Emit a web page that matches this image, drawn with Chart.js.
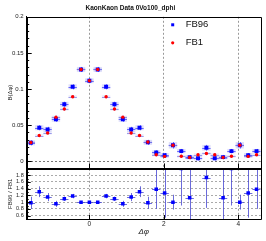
<!DOCTYPE html>
<html>
<head>
<meta charset="utf-8">
<script src="https://cdn.jsdelivr.net/npm/chart.js@4/dist/chart.umd.min.js"></script>
<style>
  html, body { margin: 0; padding: 0; background: #fff; }
  #c { display: block; }
</style>
</head>
<body>
<canvas id="c" width="266" height="241"></canvas>
<script>
// bin centres in dphi (28 bins over 2pi)
const dphi = [-1.571, -1.346, -1.122, -0.898, -0.673, -0.449, -0.224, 0, 0.224, 0.449,
  0.673, 0.898, 1.122, 1.346, 1.571, 1.795, 2.020, 2.244, 2.468, 2.693,
  2.917, 3.142, 3.366, 3.590, 3.815, 4.039, 4.264, 4.488];
const halfBin = 0.112;

const fb96 = [0.0254, 0.0463, 0.044, 0.058, 0.0788, 0.103, 0.127, 0.1115, 0.127, 0.103,
  0.0788, 0.058, 0.044, 0.0463, 0.026, 0.012, 0.0083, 0.022, 0.0139, 0.0056,
  0.0040, 0.0185, 0.0040, 0.0056, 0.0139, 0.022, 0.0083, 0.0139];
const fb96Err = [0.0035, 0.0035, 0.0035, 0.0035, 0.0035, 0.0035, 0.0035, 0.0035, 0.0035, 0.0035,
  0.0035, 0.0035, 0.0035, 0.0035, 0.0035, 0.003, 0.003, 0.0045, 0.003, 0.003,
  0.003, 0.004, 0.003, 0.003, 0.003, 0.0045, 0.003, 0.003];
const fb1 = [0.0259, 0.0355, 0.039, 0.061, 0.0722, 0.0893, 0.127, 0.1115, 0.127, 0.0893,
  0.0722, 0.061, 0.039, 0.0355, 0.0265, 0.0088, 0.0066, 0.022, 0.0069, 0.005,
  0.0088, 0.0107, 0.0088, 0.005, 0.0069, 0.022, 0.0066, 0.0088];
const fb1Err = [0.002, 0.002, 0.002, 0.002, 0.002, 0.002, 0.002, 0.002, 0.002, 0.002,
  0.002, 0.002, 0.002, 0.002, 0.002, 0.002, 0.002, 0.002, 0.002, 0.002,
  0.002, 0.002, 0.002, 0.002, 0.002, 0.002, 0.002, 0.002];

const ratio = [0.98, 1.31, 1.15, 0.95, 1.10, 1.18, 1.0, 1.0, 1.0, 1.18,
  1.10, 0.95, 1.15, 1.31, 0.98, 1.38, 1.27, 1.0, 2.0, 1.13,
  null, 1.73, null, 1.13, 2.0, 1.0, 1.27, 1.38];
const ratioErr = [0.18, 0.16, 0.12, 0.09, 0.065, 0.065, 0.03, 0.03, 0.03, 0.065,
  0.065, 0.09, 0.12, 0.16, 0.18, 0.58, 0.73, 0.22, 1.1, 1.5,
  null, 0.9, null, 1.5, 1.1, 0.22, 0.73, 0.58];

const xTicks = [0, 2, 4];
const yTicks = [0, 0.05, 0.1, 0.15, 0.2];
const rTicks = [0.6, 0.8, 1, 1.2, 1.4, 1.6, 1.8];

const FONT = "'Liberation Sans', Arial, sans-serif";
Chart.defaults.font.family = FONT;
Chart.defaults.color = '#222';

function pts(ys) {
  return dphi.map((x, i) => ({x: x, y: ys[i]}));
}

// error boxes + bars, clipped to the pad of each dataset
const errorBars = {
  id: 'errorBars',
  beforeDatasetsDraw(chart) {
    const ctx = chart.ctx;
    const xs = chart.scales.x;
    chart.data.datasets.forEach(ds => {
      const ys = chart.scales[ds.yAxisID];
      ctx.save();
      ctx.beginPath();
      ctx.rect(xs.left, ys.top, xs.right - xs.left, ys.bottom - ys.top);
      ctx.clip();
      ds.data.forEach((p, i) => {
        if (p.y == null) return;
        const e = ds.err[i];
        const px = xs.getPixelForValue(p.x);
        const x0 = xs.getPixelForValue(p.x - halfBin);
        const x1 = xs.getPixelForValue(p.x + halfBin);
        const py = ys.getPixelForValue(p.y);
        const y0 = ys.getPixelForValue(p.y - e);
        const y1 = ys.getPixelForValue(p.y + e);
        if (ds.box) {
          ctx.fillStyle = ds.box;
          ctx.fillRect(x0, y1, x1 - x0, y0 - y1);
        }
        ctx.strokeStyle = ds.errColor;
        ctx.lineWidth = 1;
        ctx.beginPath();
        ctx.moveTo(x0, Math.round(py) + 0.5);
        ctx.lineTo(x1, Math.round(py) + 0.5);
        ctx.moveTo(Math.round(px) + 0.5, y0);
        ctx.lineTo(Math.round(px) + 0.5, y1);
        ctx.stroke();
      });
      ctx.restore();
    });
  }
};

// ROOT-like frames and inner tick marks
const frames = {
  id: 'frames',
  afterDatasetsDraw(chart) {
    const ctx = chart.ctx;
    const xs = chart.scales.x, yt = chart.scales.y, yr = chart.scales.yr;
    ctx.save();
    ctx.strokeStyle = '#000';
    ctx.lineWidth = 1;
    ctx.beginPath();
    [yt, yr].forEach(s => {
      ctx.rect(Math.round(xs.left) + 0.5, Math.round(s.top) + 0.5,
        Math.round(xs.right - xs.left), Math.round(s.bottom - s.top));
    });
    // minor / major ticks on the left edges
    for (let v = -0.01; v <= 0.2001; v += 0.01) {
      const y = Math.round(yt.getPixelForValue(v)) + 0.5;
      const major = Math.abs(v / 0.05 - Math.round(v / 0.05)) < 1e-6;
      ctx.moveTo(xs.left, y);
      ctx.lineTo(xs.left + (major ? 5 : 2.5), y);
    }
    for (let v = 0.6; v <= 1.95; v += 0.1) {
      const y = Math.round(yr.getPixelForValue(v)) + 0.5;
      const major = Math.abs(v / 0.2 - Math.round(v / 0.2)) < 1e-6;
      ctx.moveTo(xs.left, y);
      ctx.lineTo(xs.left + (major ? 4 : 2), y);
    }
    xTicks.forEach(v => {
      const x = Math.round(xs.getPixelForValue(v)) + 0.5;
      ctx.moveTo(x, yr.bottom);
      ctx.lineTo(x, yr.bottom - 4);
      ctx.moveTo(x, yt.bottom);
      ctx.lineTo(x, yt.bottom - 5);
    });
    ctx.stroke();
    ctx.restore();
  }
};

// legend drawn inside the upper pad
const padLegend = {
  id: 'padLegend',
  afterDraw(chart) {
    const ctx = chart.ctx;
    const xs = chart.scales.x, yt = chart.scales.y;
    const mx = xs.left + 146, tx = xs.left + 159;
    ctx.save();
    ctx.font = '9.5px ' + FONT;
    ctx.textBaseline = 'middle';
    ctx.textAlign = 'left';
    chart.data.datasets.slice(0, 2).forEach((ds, i) => {
      const y = yt.top + 8 + i * 18;
      ctx.fillStyle = ds.backgroundColor;
      if (ds.pointStyle === 'rect') {
        ctx.fillRect(mx - 1.5, y - 1.5, 3, 3);
      } else {
        ctx.beginPath();
        ctx.arc(mx, y, 1.6, 0, Math.PI * 2);
        ctx.fill();
      }
      ctx.fillStyle = '#111';
      ctx.fillText(ds.label, tx, y);
    });
    ctx.restore();
  }
};

new Chart(document.getElementById('c'), {
  type: 'scatter',
  data: {
    datasets: [
      {
        label: 'FB96', data: pts(fb96), err: fb96Err, yAxisID: 'y',
        pointStyle: 'rect', pointRadius: 2.8, borderWidth: 0,
        backgroundColor: '#0000ff', borderColor: '#0000ff',
        errColor: 'rgba(60,60,255,0.75)', box: 'rgba(110,110,230,0.22)', order: 2
      },
      {
        label: 'FB1', data: pts(fb1), err: fb1Err, yAxisID: 'y',
        pointStyle: 'circle', pointRadius: 1.7, borderWidth: 0,
        backgroundColor: '#ff0000', borderColor: '#ff0000',
        errColor: 'rgba(120,120,230,0.7)', box: 'rgba(120,120,220,0.15)', order: 1
      },
      {
        label: 'ratio', data: pts(ratio), err: ratioErr, yAxisID: 'yr',
        pointStyle: 'rect', pointRadius: 2.5, borderWidth: 0,
        backgroundColor: '#0000ff', borderColor: '#0000ff',
        errColor: 'rgba(70,70,210,0.8)', order: 3
      }
    ]
  },
  options: {
    animation: false,
    responsive: false,
    events: [],
    layout: {padding: {left: 0, right: 5.3, top: 0, bottom: 0}},
    plugins: {
      legend: {display: false},
      tooltip: {enabled: false},
      title: {
        display: true,
        text: 'KaonKaon Data 0Vo100_dphi',
        color: '#111',
        font: {size: 6.5, weight: 'bold'},
        padding: {top: 4, bottom: 5}
      }
    },
    scales: {
      x: {
        type: 'linear',
        min: -1.683,
        max: 4.6,
        afterBuildTicks: s => { s.ticks = xTicks.map(v => ({value: v})); },
        afterFit: s => { s.height = 22; },
        ticks: {font: {size: 6.5}, padding: 1, maxRotation: 0, autoSkip: false},
        grid: {color: '#999', drawTicks: false, lineWidth: 1},
        border: {display: true, color: '#000', dash: [2, 2]},
        title: {display: true, text: 'Δφ', font: {size: 8, style: 'italic'}, padding: {top: 0, bottom: 4}}
      },
      // the ratio pad is listed first: chart.js stacks the first axis at the bottom
      yr: {
        type: 'linear',
        position: 'left',
        stack: 'pads',
        stackWeight: 1,
        min: 0.5,
        max: 2.0,
        afterBuildTicks: s => { s.ticks = rTicks.map(v => ({value: v})); },
        afterFit: s => { s.width = 26.7; },
        ticks: {font: {size: 5.5}, padding: 3, autoSkip: false, callback: v => String(v)},
        grid: {drawTicks: false, color: '#aaa'},
        border: {display: true, color: '#000', dash: [2, 2]},
        title: {display: true, text: 'FB96 / FB1', font: {size: 6}, padding: {top: 6.4, bottom: 0}}
      },
      y: {
        type: 'linear',
        position: 'left',
        stack: 'pads',
        stackWeight: 3,
        min: -0.0101,
        max: 0.2,
        afterBuildTicks: s => { s.ticks = yTicks.map(v => ({value: v})); },
        afterFit: s => { s.width = 26.7; },
        ticks: {font: {size: 6}, padding: 3, autoSkip: false, callback: v => String(v)},
        grid: {
          drawTicks: false,
          color: c => (c.tick && c.tick.value === 0 ? '#777' : 'rgba(0,0,0,0)')
        },
        border: {display: true, color: '#000', dash: [2, 2]},
        title: {display: true, text: 'B(Δφ)', font: {size: 6}, padding: {top: 6.4, bottom: 0}}
      }
    }
  },
  plugins: [errorBars, frames, padLegend]
});
</script>
</body>
</html>
